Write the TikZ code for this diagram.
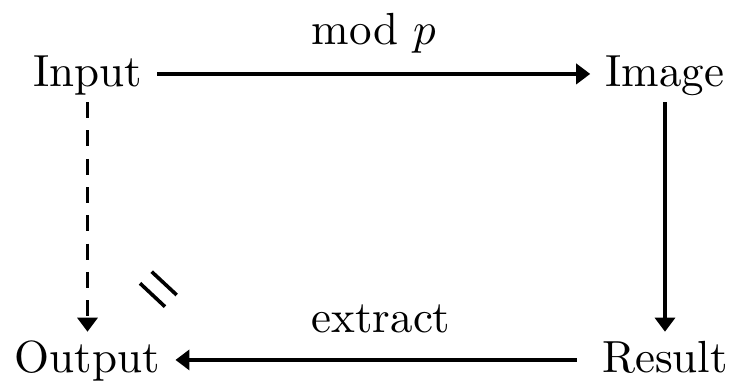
\documentclass[tikz,border=0pt]{standalone}
\usetikzlibrary{arrows.meta}
\newcommand{\sctext}[1]{\scalebox{2.25}{#1}}
\begin{document}
\begin{tikzpicture}[
  x=1pt, y=1pt,
  obj/.style={font=\fontsize{10}{12}\selectfont, anchor=base, inner xsep=7.5pt, inner ysep=2.9pt, text height=17.55pt, text depth=4.5pt},
  lbl/.style={font=\fontsize{10}{12}\selectfont, anchor=base, inner sep=0pt},
  arr/.style={line width=1.7pt, -{Triangle[length=7pt,width=10pt]}},
  dasharr/.style={arr, dash pattern=on 8pt off 6.15pt},
  eqbar/.style={line width=1.8pt}
]
\useasboundingbox (0,0) rectangle (364.5,191.5);
\node[obj] (in)  at (43.75,148) {\sctext{Input}};
\node[obj] (im)  at (332.5,148) {\sctext{Image}};
\node[obj] (out) at (43.75,5) {\sctext{Output}};
\node[obj] (res) at (332.5,5) {\sctext{Result}};
\draw[arr] (in) -- node[lbl, midway, yshift=14.5pt] {\sctext{mod $p$}} (im);
\draw[arr] (im) -- (res);
\draw[arr, shorten <=5pt] (res) -- node[lbl, midway, yshift=13.5pt] {\sctext{extract}} (out);
\draw[dasharr] (in) -- (out);
\draw[eqbar] (75.85,55.65) -- (88.35,44);
\draw[eqbar] (70,49.85) -- (82.5,38.15);
\end{tikzpicture}
\end{document}
